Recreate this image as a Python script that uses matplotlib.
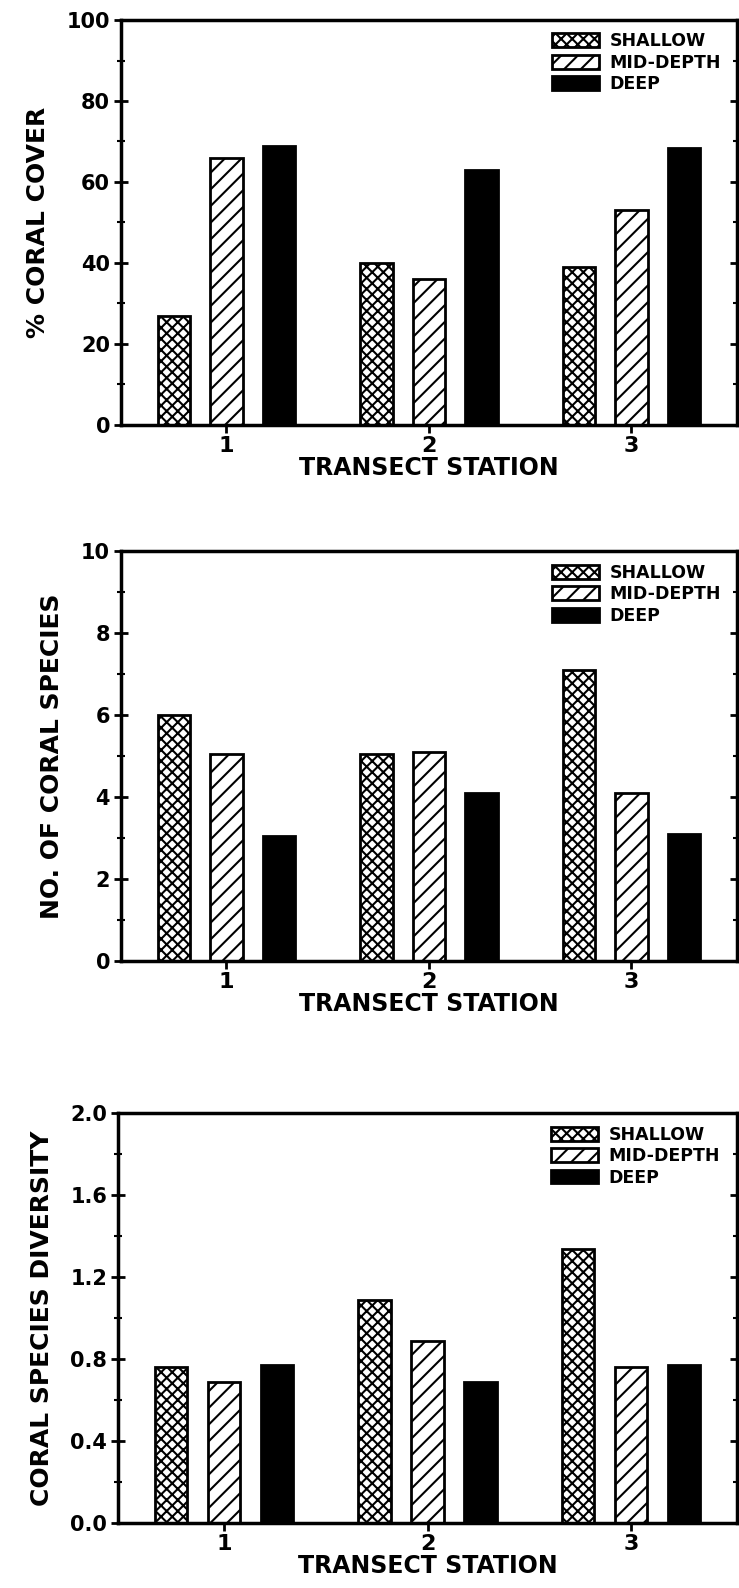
import matplotlib
matplotlib.use("Agg")
import matplotlib.pyplot as plt
import numpy as np
from matplotlib.ticker import MultipleLocator, FormatStrFormatter

plt.rcParams['font.family'] = ['DejaVu Sans']
plt.rcParams['font.weight'] = 'bold'
plt.rcParams['hatch.linewidth'] = 1.5
plt.rcParams['hatch.color'] = 'black'

stations = [1, 2, 3]
station_labels = ['1', '2', '3']
depths = ['SHALLOW', 'MID-DEPTH', 'DEEP']

# panel 1: % coral cover
cover_shallow = [27, 40, 39]
cover_mid = [66, 36, 53]
cover_deep = [69, 63, 68.5]

# panel 2: number of coral species
species_shallow = [6.0, 5.05, 7.1]
species_mid = [5.05, 5.1, 4.1]
species_deep = [3.05, 4.1, 3.1]

# panel 3: coral species diversity
div_shallow = [0.76, 1.09, 1.34]
div_mid = [0.69, 0.89, 0.76]
div_deep = [0.77, 0.69, 0.77]

panels = [
    ([cover_shallow, cover_mid, cover_deep], '% CORAL COVER', (0, 100), 20, 10, '%d'),
    ([species_shallow, species_mid, species_deep], 'NO. OF CORAL SPECIES', (0, 10), 2, 1, '%d'),
    ([div_shallow, div_mid, div_deep], 'CORAL SPECIES DIVERSITY', (0, 2.0), 0.4, 0.2, '%.1f'),
]

# [left, bottom, width, height] in figure fraction
boxes = [
    [0.164, 0.7324, 0.833, 0.255],
    [0.164, 0.3948, 0.833, 0.258],
    [0.160, 0.0409, 0.837, 0.258],
]

hatches = ['xxx', '//', None]
faces = ['white', 'white', 'black']
offsets = [-0.26, 0.0, 0.26]
width = 0.16

fig = plt.figure(figsize=(7.39, 15.88), dpi=100)

for (series, ylabel, ylim, major, minor, fmt), box in zip(panels, boxes):
    ax = fig.add_axes(box)
    x = np.array(stations, dtype=float)
    for vals, lab, h, fc, off in zip(series, depths, hatches, faces, offsets):
        ax.bar(x + off, vals, width, color=fc, edgecolor='black', linewidth=2.0,
               hatch=h, label=lab)
    ax.set_xlim(0.48, 3.52)
    ax.set_ylim(*ylim)
    ax.set_xticks(stations)
    ax.set_xticklabels(station_labels)
    ax.yaxis.set_major_locator(MultipleLocator(major))
    ax.yaxis.set_minor_locator(MultipleLocator(minor))
    ax.yaxis.set_major_formatter(FormatStrFormatter(fmt))
    ax.tick_params(axis='y', which='major', direction='inout', length=10, width=2,
                   labelsize=15, right=True, pad=3)
    ax.tick_params(axis='y', which='minor', direction='inout', length=6, width=1.5,
                   right=True)
    ax.tick_params(axis='x', direction='out', length=6, width=2, labelsize=16, pad=2)
    for s in ax.spines.values():
        s.set_linewidth(2.5)
    ax.set_xlabel('TRANSECT STATION', fontsize=17, fontweight='bold', labelpad=0)
    ax.set_ylabel(ylabel, fontsize=18, fontweight='bold', labelpad=12)
    ax.legend(loc='upper left', bbox_to_anchor=(0.70, 0.97), frameon=False,
              fontsize=12.5, handlelength=2.7, handleheight=0.85, labelspacing=0.2,
              handletextpad=0.6, borderpad=0, borderaxespad=0)

fig.savefig('out.png', dpi=100, facecolor='white')
